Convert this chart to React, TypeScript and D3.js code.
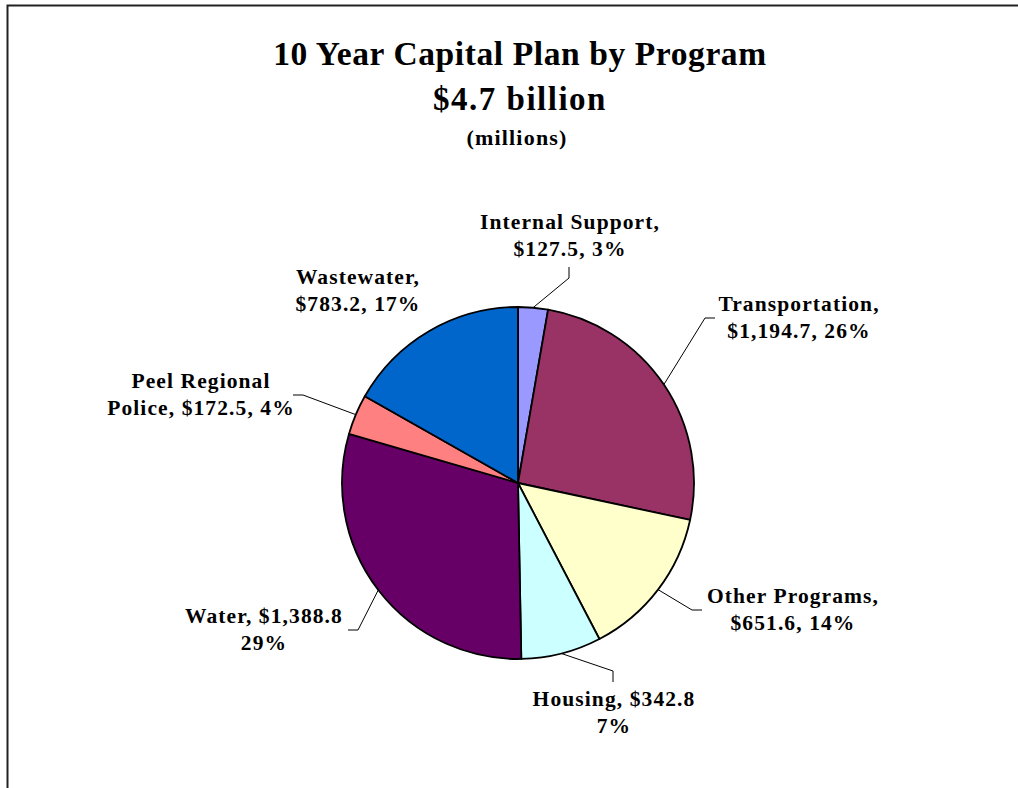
import React from "react";
import * as d3 from "d3";

const categories = [
  "Internal Support",
  "Transportation",
  "Other Programs",
  "Housing",
  "Water",
  "Peel Regional Police",
  "Wastewater",
];
const values = [127.5, 1194.7, 651.6, 342.8, 1388.8, 172.5, 783.2];
const labelLines = [
  ["Internal Support,", "$127.5, 3%"],
  ["Transportation,", "$1,194.7, 26%"],
  ["Other Programs,", "$651.6, 14%"],
  ["Housing, $342.8", "7%"],
  ["Water, $1,388.8", "29%"],
  ["Peel Regional", "Police, $172.5, 4%"],
  ["Wastewater,", "$783.2, 17%"],
];
const colors = ["#9999FF", "#993366", "#FFFFCC", "#CCFFFF", "#660066", "#FF8080", "#0066CC"];
const titleLines = ["10 Year Capital Plan by Program", "$4.7 billion", "(millions)"];

// layout of labels (text centre x, first baseline y, leader start & elbow)
const labelLayout = [
  { x: 570, y: 229, start: [569, 267], elbow: [569, 278] },
  { x: 799, y: 311, start: [715, 318], elbow: [705, 318] },
  { x: 793, y: 603, start: [702, 610], elbow: [692, 610] },
  { x: 614, y: 706, start: [613, 682], elbow: [613, 671] },
  { x: 264, y: 623, start: [348, 630], elbow: [358, 630] },
  { x: 201, y: 388, start: [293, 395], elbow: [303, 395] },
  { x: 358, y: 284, start: null, elbow: null },
];

const W = 1018;
const H = 788;
const cx = 518;
const cy = 483;
const R = 176;
const FONT = "'Liberation Serif', 'Times New Roman', Times, serif";

export default function App() {
  const pie = d3.pie<number>().sort(null).value((d) => d)(values);
  const arc = d3.arc<d3.PieArcDatum<number>>().innerRadius(0).outerRadius(R);

  return (
    <svg
      width={W}
      height={H}
      style={{ position: "absolute", left: 0, top: 0, display: "block" }}
      fontFamily={FONT}
    >
      <rect x={0} y={0} width={W} height={H} fill="#fff" />
      <rect x={7.5} y={5.5} width={1200} height={1000} fill="none" stroke="#222" strokeWidth={2} />

      <text x={520} y={65} textAnchor="middle" fontSize={33.5} fontWeight="bold" style={{ letterSpacing: "0.6px" }}>
        {titleLines[0]}
      </text>
      <text x={520} y={110} textAnchor="middle" fontSize={33} fontWeight="bold" style={{ letterSpacing: "1.5px" }}>
        {titleLines[1]}
      </text>
      <text x={517} y={145} textAnchor="middle" fontSize={22} fontWeight="bold" style={{ letterSpacing: "1.2px" }}>
        {titleLines[2]}
      </text>

      <g transform={`translate(${cx},${cy})`}>
        {pie.map((p, i) => (
          <path key={categories[i]} d={arc(p) || ""} fill={colors[i]} stroke="#000" strokeWidth={1.8} strokeLinejoin="round" />
        ))}
      </g>

      {pie.map((p, i) => {
        const L = labelLayout[i];
        if (!L.start) return null;
        const mid = (p.startAngle + p.endAngle) / 2;
        const ex = cx + R * Math.sin(mid);
        const ey = cy - R * Math.cos(mid);
        const pts: [number, number][] = [
          [L.start[0], L.start[1]],
          [L.elbow[0], L.elbow[1]],
          [ex, ey],
        ];
        return (
          <path key={"l" + i} d={d3.line()(pts) || ""} fill="none" stroke="#000" strokeWidth={1} />
        );
      })}

      {labelLines.map((lines, i) => {
        const L = labelLayout[i];
        return (
          <text
            key={"t" + i}
            x={L.x}
            y={L.y}
            textAnchor="middle"
            fontSize={21.5}
            fontWeight="bold"
            style={{ letterSpacing: "1.1px" }}
          >
            {lines.map((s, j) => (
              <tspan key={j} x={L.x} y={L.y + j * 27}>
                {s}
              </tspan>
            ))}
          </text>
        );
      })}
    </svg>
  );
}
